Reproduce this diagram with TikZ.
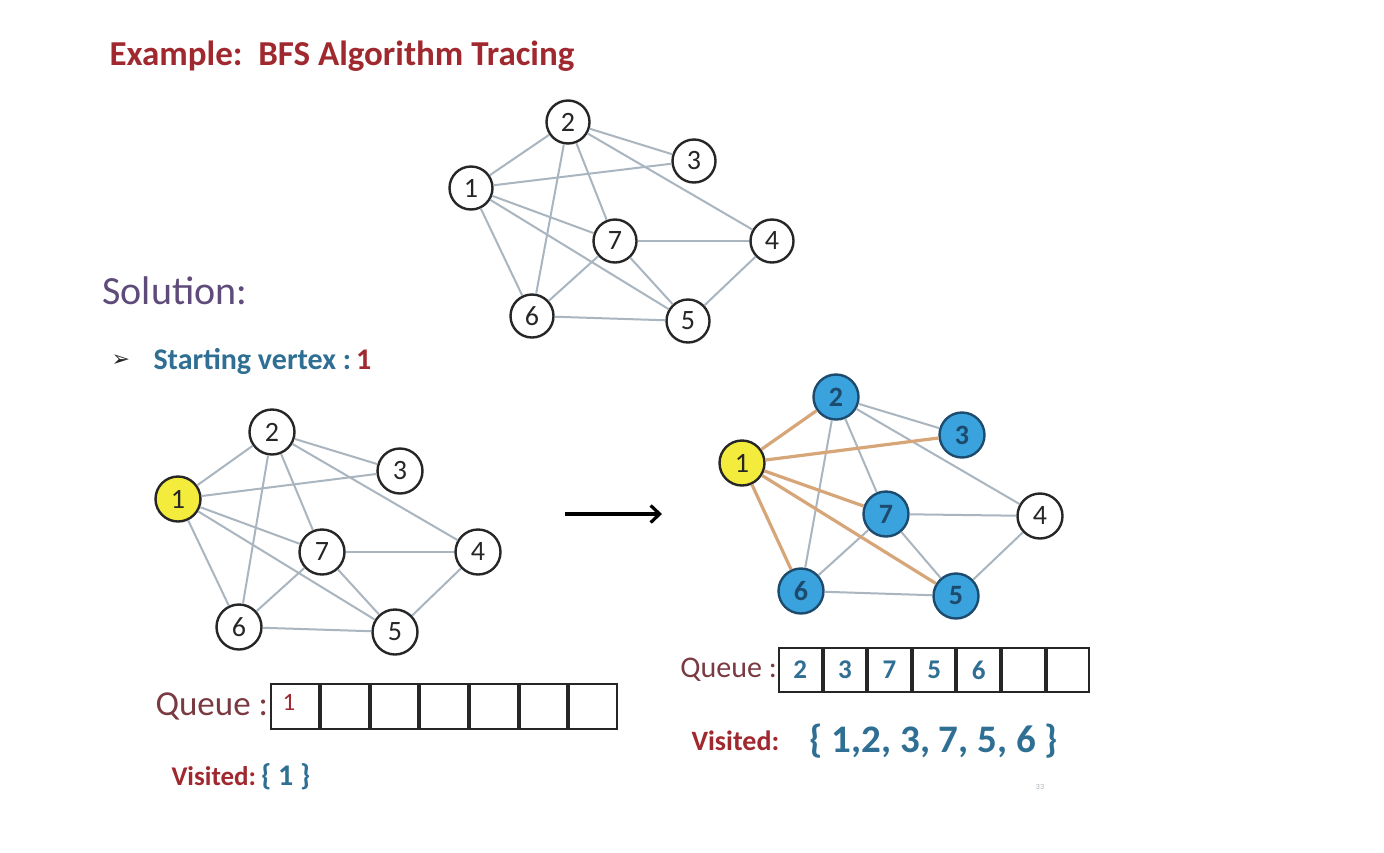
\documentclass[tikz,border=0pt]{standalone}
\usepackage{fontspec}
\setmainfont{Carlito}
\newfontfamily\bulletfont{DejaVu Sans}
\usetikzlibrary{arrows.meta,positioning}
\definecolor{TraceRed}{HTML}{A0282F}
\definecolor{TraceBrown}{HTML}{7A3A42}
\definecolor{TraceViolet}{HTML}{5E4B7A}
\definecolor{TraceBlue}{HTML}{2E6F93}
\definecolor{TraceDeep}{HTML}{1D4B6E}
\definecolor{TraceFill}{HTML}{3AA2DC}
\definecolor{TraceYellow}{HTML}{F4EC3C}
\definecolor{TraceEdge}{HTML}{A9B5BF}
\definecolor{TraceTan}{HTML}{D6A678}
\definecolor{TraceInk}{HTML}{262626}

\begin{document}
\begin{tikzpicture}[
    x=1pt,y=-1pt,
    vertex/.style={circle,draw=TraceInk,line width=2.4pt,fill=white,minimum size=43pt,inner sep=0pt,text=TraceInk,font=\fontsize{28}{28}\selectfont},
    bigvertex/.style={vertex,minimum size=45pt},
    seen/.style={bigvertex,fill=TraceFill,draw=TraceDeep,text=TraceDeep,font=\fontsize{28}{28}\selectfont\bfseries},
    start/.style={bigvertex,fill=TraceYellow},
    edge/.style={draw=TraceEdge,line width=2pt},
    treeedge/.style={draw=TraceTan,line width=3.2pt},
    cell/.style={draw=TraceInk,line width=2pt,minimum width=47.7pt,minimum height=45pt,inner sep=0pt},
    smallcell/.style={cell,minimum width=42.6pt,minimum height=44pt,text=TraceBlue,font=\fontsize{27}{27}\selectfont\bfseries}
  ]
  \useasboundingbox (0,0) rectangle (1384,852);
  \fill[white] (0,0) rectangle (1384,852);

  % heading
  \node[anchor=west,text=TraceRed,font=\fontsize{35}{37}\selectfont\bfseries] (title) at (106,56) {Example:\ \ BFS Algorithm Tracing};
  \node[anchor=west,text=TraceViolet,font=\fontsize{40}{42}\selectfont] (solution) at (99,291) {Solution:};
  \node[anchor=west,text=TraceInk,font=\bulletfont\fontsize{22}{24}\selectfont] (bullet) at (108,361) {➢};
  \node[anchor=west,text=TraceBlue,font=\fontsize{30}{32}\selectfont\bfseries] (startv) at (150,361) {Starting vertex :\,\textcolor{TraceRed}{1}};

  % input graph
  \node[vertex] (t1) at (471,188) {1};
  \node[vertex] (t2) at (568,122) {2};
  \node[vertex] (t3) at (694,161) {3};
  \node[vertex] (t7) at (615,241) {7};
  \node[vertex] (t4) at (772,241) {4};
  \node[vertex] (t6) at (532,316) {6};
  \node[vertex] (t5) at (688,321) {5};
  \foreach \a/\b in {1/2,1/3,1/7,1/5,1/6,2/3,2/6,2/7,2/4,7/4,7/6,7/5,6/5,5/4}
    \draw[edge] (t\a) -- (t\b);

  % step 0
  \node[start] (l1) at (178,499) {1};
  \node[bigvertex] (l2) at (272,432) {2};
  \node[bigvertex] (l3) at (400,471) {3};
  \node[bigvertex] (l7) at (322,552) {7};
  \node[bigvertex] (l4) at (478,552) {4};
  \node[bigvertex] (l6) at (239,627) {6};
  \node[bigvertex] (l5) at (395,632) {5};
  \foreach \a/\b in {1/2,1/3,1/7,1/5,1/6,2/3,2/6,2/7,2/4,7/4,7/6,7/5,6/5,5/4}
    \draw[edge] (l\a) -- (l\b);

  \coordinate (arrowtail) at (565,514);
  \coordinate (arrowhead) at (662,514);
  \draw[line width=3.2pt,-{Straight Barb[length=9pt,width=17pt]}] (arrowtail) -- (arrowhead);

  % step 1
  \node[start] (r1) at (742,463) {1};
  \node[seen] (r2) at (836,397) {2};
  \node[seen] (r3) at (962,435) {3};
  \node[seen] (r7) at (886,514) {7};
  \node[bigvertex] (r4) at (1040,516) {4};
  \node[seen] (r6) at (801,591) {6};
  \node[seen] (r5) at (956,596) {5};
  \foreach \a/\b in {2/3,2/6,2/7,2/4,7/4,7/6,7/5,6/5,5/4}
    \draw[edge] (r\a) -- (r\b);
  \foreach \b in {2,3,7,5,6}
    \draw[treeedge] (r1) -- (r\b);

  % queue before
  \node[cell] (qa1) at (295,706.5) {};
  \foreach \i [count=\j from 2] in {1,...,6}
    \node[cell,right=0pt of qa\i] (qa\j) {};
  \node[text=TraceRed,inner sep=0pt,font=\fontsize{25}{25}\selectfont] (qa1txt) at (289,702) {1};
  \node[anchor=east,inner sep=2pt,text=TraceBrown,font=\fontsize{35}{36}\selectfont] (qalabel) at (qa1.west) {Queue :};
  \node[anchor=west,text=TraceRed,font=\fontsize{27}{29}\selectfont\bfseries] (visa) at (168,777) {Visited:\textcolor{TraceBlue}{\fontsize{30}{30}\selectfont\,\{ 1 \}}};

  % queue after
  \node[smallcell] (qb1) at (800.3,670) {2};
  \node[smallcell,right=0pt of qb1] (qb2) {3};
  \node[smallcell,right=0pt of qb2] (qb3) {7};
  \node[smallcell,right=0pt of qb3] (qb4) {5};
  \node[smallcell,right=0pt of qb4] (qb5) {6};
  \node[smallcell,right=0pt of qb5] (qb6) {};
  \node[smallcell,right=0pt of qb6] (qb7) {};
  \node[anchor=east,inner sep=1pt,text=TraceBrown,font=\fontsize{30}{32}\selectfont] (qblabel) at (qb1.west) {Queue :};
  \node[anchor=west,text=TraceRed,font=\fontsize{28}{30}\selectfont\bfseries] (visb) at (688,741) {Visited:};
  \node[anchor=west,text=TraceBlue,font=\fontsize{39}{41}\selectfont\bfseries] (visbset) at (806,741) {\{ 1,2, 3, 7, 5, 6 \}};

  \node[text=TraceEdge,font=\fontsize{8}{8}\selectfont] (pageno) at (1040,787) {33};
\end{tikzpicture}
\end{document}
